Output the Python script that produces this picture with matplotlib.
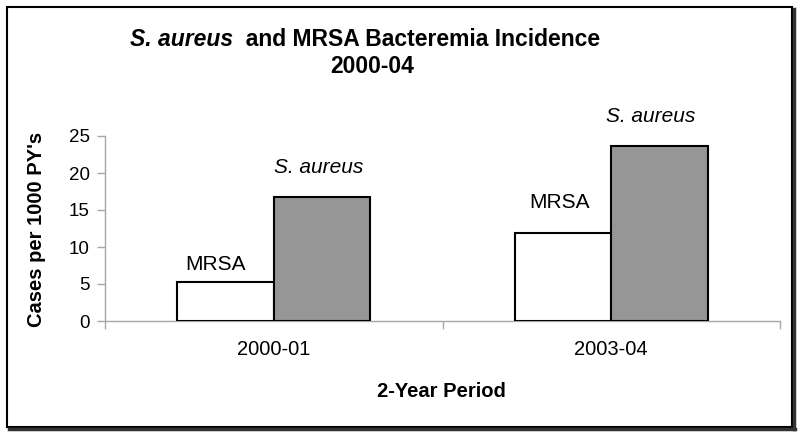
import numpy as np
import matplotlib
matplotlib.use('Agg')
import matplotlib.pyplot as plt
from matplotlib.patches import Rectangle
from matplotlib.lines import Line2D

plt.rcParams['font.family'] = ['Liberation Sans', 'DejaVu Sans']

periods = ['2000-01', '2003-04']
mrsa = [5.3, 11.9]
saureus = [16.8, 23.6]

W, H = 800, 434
fig = plt.figure(figsize=(W / 100, H / 100), dpi=100)
ax = fig.add_axes([105 / W, (H - 321) / H, (780 - 105) / W, (321 - 136) / H])

ind = np.arange(len(periods))
bw = 0.286
ax.bar(ind - bw / 2, mrsa, bw, color='white', edgecolor='black', linewidth=1.5, zorder=3)
ax.bar(ind + bw / 2, saureus, bw, color='#969696', edgecolor='black', linewidth=1.5, zorder=3)

# text labels above bars (hand placed, like the original)
ax.text(-0.174, 6.9, 'MRSA', ha='center', va='baseline', fontsize=15)
ax.text(0.134, 20.0, 'S. aureus', ha='center', va='baseline', fontsize=15, style='italic')
ax.text(0.848, 15.3, 'MRSA', ha='center', va='baseline', fontsize=15)
ax.text(1.118, 26.9, 'S. aureus', ha='center', va='baseline', fontsize=15, style='italic', clip_on=False)

ax.set_xlim(-0.5, 1.5)
ax.set_ylim(0, 25)
ax.set_yticks([0, 5, 10, 15, 20, 25])
ax.set_xticks(ind)
ax.set_xticklabels(periods, fontsize=14.5)
ax.set_xticks([-0.5, 0.5, 1.5], minor=True)
ax.tick_params(axis='x', which='major', length=0, pad=14)
ax.tick_params(axis='x', which='minor', length=6, color='#a8a8a8', width=1)
ax.tick_params(axis='y', labelsize=13.5, length=6, color='#a8a8a8', width=1, pad=5)
for s in ['top', 'right']:
    ax.spines[s].set_visible(False)
for s in ['left', 'bottom']:
    ax.spines[s].set_color('#a8a8a8')
    ax.spines[s].set_linewidth(1)

fig.text(37 / W, (H - 229) / H, "Cases per 1000 PY's", rotation=90, ha='center', va='center',
         fontsize=14.5, fontweight='bold')
fig.text(441 / W, (H - 397) / H, '2-Year Period', ha='center', va='baseline',
         fontsize=14.5, fontweight='bold')

# title with italic species name
fig.canvas.draw()
r = fig.canvas.get_renderer()
t1 = fig.text(0, (H - 46) / H, 'S. aureus', style='italic', fontweight='bold', fontsize=16.5, va='baseline')
t2 = fig.text(0, (H - 46) / H, '  and MRSA Bacteremia Incidence', fontweight='bold', fontsize=16.5, va='baseline')
w1 = t1.get_window_extent(r).width
w2 = t2.get_window_extent(r).width
x0 = 365 - (w1 + w2) / 2
t1.set_x(x0 / W)
t2.set_x((x0 + w1) / W)
fig.text(372 / W, (H - 73) / H, '2000-04', ha='center', va='baseline', fontsize=16.5, fontweight='bold')

# frame around the whole chart, with a dark shadow on right and bottom
fig.patches.append(Rectangle((7 / W, 7 / H), 785 / W, 420 / H, transform=fig.transFigure,
                             fill=False, edgecolor='black', linewidth=1.5))
fig.lines.append(Line2D([794 / W, 794 / W], [5 / H, 425 / H], transform=fig.transFigure,
                        color='#333333', linewidth=2.5))
fig.lines.append(Line2D([9 / W, 795 / W], [5 / H, 5 / H], transform=fig.transFigure,
                        color='#333333', linewidth=2.5))

plt.savefig('out.png', dpi=100)
